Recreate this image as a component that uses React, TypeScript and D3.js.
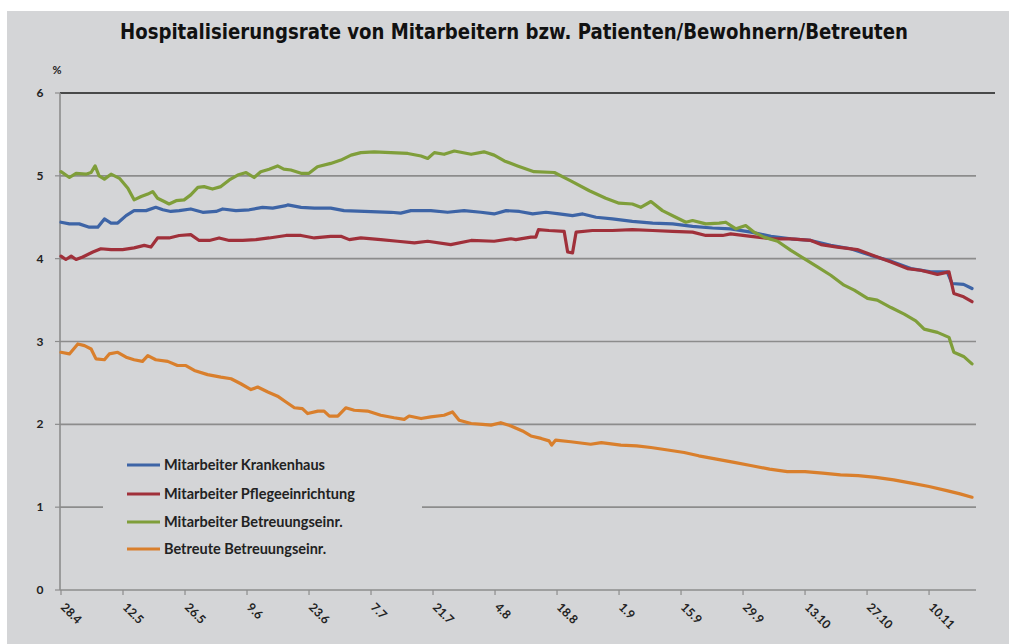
import React from "react";
import * as d3 from "d3";

const title = "Hospitalisierungsrate von Mitarbeitern bzw. Patienten/Bewohnern/Betreuten";
const tickLabels = ["28.4", "12.5", "26.5", "9.6", "23.6", "7.7", "21.7", "4.8", "18.8", "1.9", "15.9", "29.9", "13.10", "27.10", "10.11"];
const tickDays = [0, 14, 28, 42, 56, 70, 84, 98, 112, 126, 140, 154, 168, 182, 196];
const yTicks = [0, 1, 2, 3, 4, 5, 6];
const seriesNames = ["Mitarbeiter Krankenhaus", "Mitarbeiter Pflegeeinrichtung", "Mitarbeiter Betreuungseinr.", "Betreute Betreuungseinr."];

// [day offset from 28.4, percent]
const krankenhaus: [number, number][] = [
  [0,4.44],[1.9,4.42],[4.1,4.42],[6.4,4.38],[8.3,4.38],[9.8,4.48],[11.3,4.43],[12.8,4.43],[14.7,4.52],[16.5,4.58],[19.2,4.58],[21.4,4.62],[23,4.59],[24.8,4.57],[26.7,4.58],[29.3,4.60],[32,4.56],[35,4.57],[36.5,4.60],[39.5,4.58],[42.5,4.59],[45.5,4.62],[47.8,4.61],[50.8,4.64],[51.2,4.65],[54.2,4.62],[57.2,4.61],[60.9,4.61],[63.9,4.58],[68.5,4.57],[74.5,4.56],[76.7,4.55],[79,4.58],[83.5,4.58],[87.3,4.56],[91,4.58],[94.8,4.56],[97.8,4.54],[100.5,4.58],[103.5,4.57],[106.5,4.54],[109.5,4.56],[112.5,4.54],[115.5,4.52],[117.8,4.54],[120.8,4.50],[124.5,4.48],[129,4.45],[133.6,4.43],[138.1,4.42],[142.6,4.39],[147.1,4.37],[151.2,4.36],[155.8,4.32],[160.3,4.27],[164.8,4.24],[169.3,4.22],[173.8,4.16],[178.3,4.12],[182.8,4.04],[187.4,3.97],[191.9,3.88],[196.4,3.84],[200.1,3.84],[201.2,3.70],[203.8,3.69],[205.7,3.64]
];
const pflege: [number, number][] = [
  [0,4.03],[1.1,3.99],[2.3,4.03],[3.4,3.99],[4.9,4.02],[7.2,4.08],[9,4.12],[11.3,4.11],[13.9,4.11],[16.5,4.13],[18.8,4.16],[20.3,4.14],[21.8,4.25],[24.4,4.25],[26.7,4.28],[29.3,4.29],[31.2,4.22],[33.5,4.22],[35.7,4.25],[38,4.22],[41,4.22],[44,4.23],[47,4.25],[50.8,4.28],[54.2,4.28],[57.2,4.25],[60.9,4.27],[63.2,4.27],[65.1,4.23],[67.7,4.25],[72.2,4.23],[76,4.21],[79.8,4.19],[82.8,4.21],[88,4.17],[92.6,4.22],[97.8,4.21],[101.6,4.24],[102.7,4.23],[106.1,4.26],[107.2,4.26],[107.8,4.35],[110.2,4.34],[113.6,4.33],[114.4,4.08],[115.5,4.07],[116.3,4.32],[120,4.34],[124.5,4.34],[129,4.35],[133.6,4.34],[138.1,4.33],[142.6,4.32],[145.6,4.28],[149.4,4.28],[151.2,4.30],[155.8,4.27],[160.3,4.24],[164.8,4.24],[169.3,4.22],[171.6,4.17],[175.3,4.14],[179.8,4.11],[182.8,4.05],[187.4,3.96],[191.1,3.88],[194.1,3.86],[197.9,3.81],[200.5,3.84],[201.6,3.58],[203.8,3.54],[205.7,3.48]
];
const betreuungMa: [number, number][] = [
  [0,5.05],[1.9,4.98],[3.4,5.03],[5.6,5.02],[6.8,5.04],[7.7,5.12],[8.6,5.00],[9.8,4.96],[11.3,5.02],[13.2,4.97],[15.1,4.85],[16.5,4.71],[18.1,4.75],[19.6,4.78],[20.7,4.81],[21.8,4.73],[23.3,4.69],[24.4,4.66],[26,4.70],[27.8,4.71],[29.3,4.77],[30.9,4.86],[32.3,4.87],[34.2,4.84],[36.1,4.87],[38,4.95],[39.9,5.01],[41.8,5.04],[43.6,4.98],[45.1,5.05],[47,5.08],[48.9,5.12],[50.3,5.08],[51.9,5.07],[54.2,5.03],[56,5.03],[57.9,5.11],[60.9,5.15],[63.2,5.19],[65.5,5.25],[67.7,5.28],[70.7,5.29],[74.5,5.28],[78.3,5.27],[81.3,5.24],[82.8,5.21],[84.3,5.28],[86.5,5.26],[88.8,5.30],[92.6,5.26],[95.5,5.29],[97.8,5.25],[100.1,5.18],[103.1,5.12],[106.8,5.05],[111.4,5.04],[115.1,4.94],[119.3,4.82],[123,4.73],[126,4.67],[129,4.66],[130.9,4.62],[133.2,4.69],[135.8,4.58],[138.8,4.50],[141.1,4.44],[142.6,4.46],[145.6,4.42],[148.6,4.43],[150.1,4.44],[152.4,4.36],[154.6,4.40],[156.5,4.32],[158.7,4.26],[161.8,4.21],[164.8,4.10],[167.8,4.00],[170.8,3.90],[173.8,3.80],[176.8,3.68],[179.1,3.62],[182.1,3.52],[184.3,3.50],[187.4,3.41],[190.4,3.33],[193,3.25],[194.9,3.15],[197.9,3.11],[200.5,3.05],[201.6,2.87],[203.8,2.82],[205.7,2.73]
];
const betreute: [number, number][] = [
  [0,2.87],[1.9,2.85],[3.8,2.97],[5.3,2.95],[6.8,2.91],[7.9,2.79],[9.8,2.78],[10.9,2.85],[12.8,2.87],[14.7,2.81],[16.5,2.78],[18.4,2.76],[19.6,2.83],[21.4,2.78],[24.1,2.76],[26.3,2.71],[28.2,2.71],[30.1,2.65],[33.1,2.60],[36.1,2.57],[38.4,2.55],[40.6,2.49],[42.9,2.42],[44.4,2.45],[46.7,2.39],[48.9,2.34],[50.8,2.27],[52.7,2.20],[54.5,2.19],[55.7,2.13],[58,2.16],[59.4,2.16],[60.6,2.10],[62.5,2.10],[64.3,2.20],[66.2,2.17],[69.2,2.16],[72.2,2.11],[75.2,2.08],[77.5,2.06],[78.6,2.10],[81.3,2.07],[83.5,2.09],[86.5,2.11],[88.4,2.15],[89.9,2.05],[92.6,2.01],[95.2,2.00],[97.1,1.99],[99.3,2.02],[101.6,1.98],[104.2,1.92],[106.1,1.86],[108.4,1.83],[110.2,1.80],[110.8,1.75],[111.7,1.81],[115.1,1.79],[119.6,1.76],[122,1.78],[126.4,1.75],[130,1.74],[133.2,1.72],[137,1.69],[140.7,1.66],[144,1.62],[148,1.58],[152,1.54],[156,1.50],[160,1.46],[164,1.43],[168,1.43],[172,1.41],[176,1.39],[180,1.38],[184,1.36],[188,1.33],[192,1.29],[196,1.25],[200,1.20],[203,1.16],[205.7,1.12]
];

const seriesData = [krankenhaus, pflege, betreuungMa, betreute];
const colors = ["#3d64a6", "#a0303a", "#7f9e3a", "#d97f2c"];

const W = 1009, H = 644;
const BG = "#d4d5d7";
const labelFont = "Lato, 'Open Sans', sans-serif";

export default function App() {
  const x = d3.scaleLinear().domain([0, 206.6]).range([61, 976]);
  const y = d3.scaleLinear().domain([0, 6]).range([590, 93]);
  const line = d3.line<[number, number]>().x(d => x(d[0])).y(d => y(d[1]));
  const legendY = [465, 494, 522, 549];

  return (
    <svg width={W} height={H} style={{ position: "absolute", left: 0, top: 0 }} xmlns="http://www.w3.org/2000/svg">
      <rect x={0} y={0} width={W} height={H} fill="#ffffff" />
      <rect x={7} y={11} width={W - 7} height={H - 11} fill={BG} />
      <text x={514} y={39} textAnchor="middle" fontFamily="'Liberation Sans Narrow', 'DejaVu Sans Condensed', sans-serif" fontWeight="bold" fontSize={22} fill="#111" textLength={788} lengthAdjust="spacingAndGlyphs">{title}</text>
      <text x={57} y={74} textAnchor="middle" fontFamily={labelFont} fontWeight="bold" fontSize={11} fill="#222">%</text>

      {yTicks.filter(t => t > 0 && t < 6).map(t => (
        <line key={"g" + t} x1={x(0) - 1} x2={976} y1={y(t)} y2={y(t)} stroke="#8c8c8c" strokeWidth={1.6} />
      ))}
      <line x1={x(0) - 1} x2={995} y1={y(6)} y2={y(6)} stroke="#1a1a1a" strokeWidth={1.6} />
      {yTicks.map(t => (
        <g key={"yt" + t}>
          <line x1={55} x2={60} y1={y(t)} y2={y(t)} stroke="#8c8c8c" strokeWidth={1.2} />
          <text x={40} y={y(t) + 4} textAnchor="middle" fontFamily={labelFont} fontWeight="bold" fontSize={12} fill="#222">{t}</text>
        </g>
      ))}
      <line x1={60} x2={60} y1={y(6)} y2={y(0)} stroke="#8c8c8c" strokeWidth={1.6} />
      <line x1={60} x2={976} y1={y(0)} y2={y(0)} stroke="#8c8c8c" strokeWidth={1.6} />
      {tickDays.map((d, i) => (
        <g key={"xt" + i}>
          <line x1={x(d)} x2={x(d)} y1={y(0)} y2={y(0) + 5} stroke="#8c8c8c" strokeWidth={1.2} />
          <text transform={`translate(${x(d) - 1},${y(0) + 18}) rotate(45)`} fontFamily={labelFont} fontWeight="bold" fontSize={12} fill="#222">{tickLabels[i]}</text>
        </g>
      ))}

      {seriesData.map((s, i) => (
        <path key={"s" + i} d={line(s) || ""} fill="none" stroke={colors[i]} strokeWidth={3.2} strokeLinejoin="round" strokeLinecap="round" />
      ))}

      <rect x={103} y={447} width={319} height={122} fill={BG} />
      {seriesNames.map((n, i) => (
        <g key={"lg" + i}>
          <line x1={127} x2={160} y1={legendY[i]} y2={legendY[i]} stroke={colors[i]} strokeWidth={3} />
          <text x={164} y={legendY[i] + 5} fontFamily={labelFont} fontWeight="bold" fontSize={14.5} fill="#222">{n}</text>
        </g>
      ))}
    </svg>
  );
}
